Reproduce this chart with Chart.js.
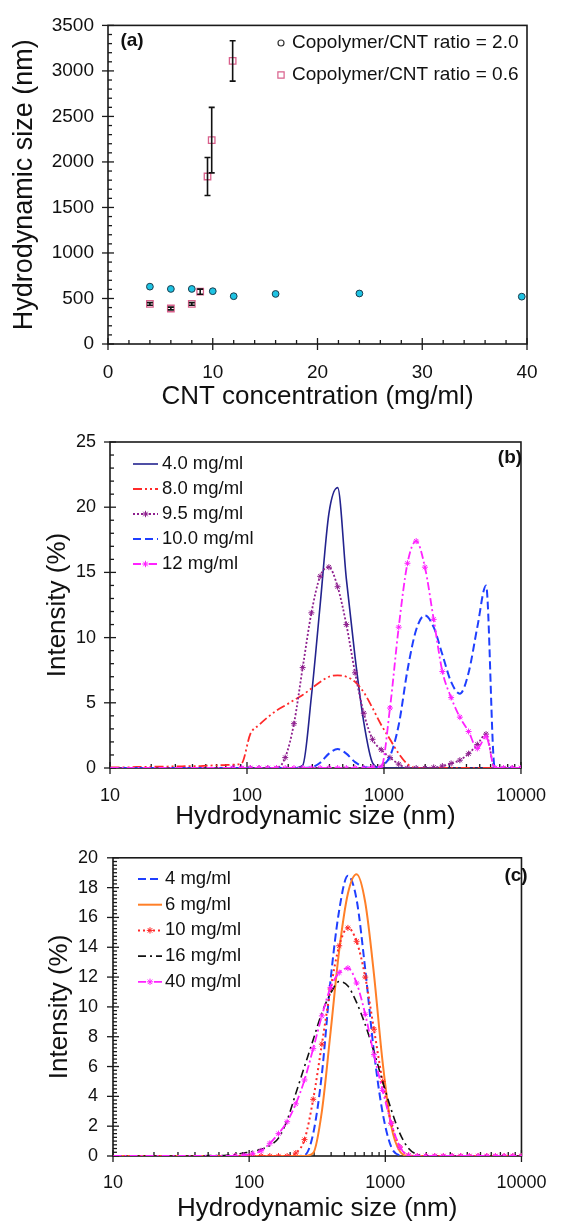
<!DOCTYPE html>
<html>
<head>
<meta charset="utf-8">
<script src="https://cdn.jsdelivr.net/npm/chart.js@4.4.1/dist/chart.umd.min.js"></script>
<style>
  html, body { margin: 0; padding: 0; background: #fff; overflow: hidden; }
  canvas { position: absolute; left: 0; }
</style>
</head>
<body>
<canvas id="chartA" width="563" height="412" style="top:0px"></canvas>
<canvas id="chartB" width="563" height="420" style="top:412px"></canvas>
<canvas id="chartC" width="563" height="392" style="top:832px"></canvas>
<script>
// ---- panel (a): size vs CNT concentration
const ratio20X = [4, 6, 8, 10, 12, 16, 24, 39.5];
const ratio20Y = [630, 605, 605, 580, 525, 550, 555, 520];
const ratio06X = [4, 6, 8, 8.8, 9.5, 9.9, 11.9];
const ratio06Y = [440, 390, 440, 575, 1840, 2240, 3110];
const ratio06Err = [15, 15, 15, 28, 208, 360, 222];

// ---- size bins (nm), shared by panels (b) and (c)
const sizeBins = [10.1, 11.7, 13.54, 15.69, 18.17, 21.04, 24.36, 28.21, 32.67, 37.84,
  43.82, 50.75, 58.77, 68.06, 78.82, 91.28, 105.7, 122.4, 141.8, 164.2,
  190.1, 220.2, 255.0, 295.3, 342.0, 396.1, 458.7, 531.2, 615.1, 712.4,
  825.0, 955.4, 1106, 1281, 1484, 1718, 1990, 2305, 2669, 3091,
  3580, 4145, 4801, 5560, 6439, 7456, 8635, 10000];

// ---- panel (b): intensity (%)
const b40 = [0,0,0,0,0,0,0,0,0,0, 0,0,0,0,0,0,0,0,0,0,
  0,0,0.2,5.5,12.5,19.5,21.5,14.5,8.5,3.5, 0.4,0,0,0,0,0,0,0,0,0, 0,0,0,0,0,0,0,0];
const b80 = [0.05,0.05,0.05,0.08,0.08,0.1,0.1,0.12,0.12,0.15, 0.15,0.18,0.2,0.22,0.25,0.35,2.6,3.3,3.9,4.4,
  4.8,5.2,5.6,6.1,6.6,7.0,7.1,7.0,6.6,5.8, 4.6,3.3,2.2,1.1,0.3,0,0,0,0,0, 0,0,0,0,0,0,0,0];
const b95 = [0,0,0,0,0,0,0,0,0,0, 0,0,0,0,0,0,0,0,0,0,
  0.8,3.4,7.7,11.9,14.7,15.4,13.9,11.0,7.3,4.2, 2.2,1.4,0.8,0.3,0,0,0,0.05,0.15,0.35, 0.6,1.1,1.8,2.6,0,0,0,0];
const b100 = [0,0,0,0,0,0,0,0,0,0, 0,0,0,0,0,0,0,0,0,0,
  0,0,0,0.05,0.4,1.1,1.45,1.1,0.45,0.1, 0,0.15,0.9,3.3,7.5,10.6,11.7,10.8,8.7,6.6, 5.7,7.3,10.8,14.0,0,0,0,0];
const b120 = [0,0,0,0,0,0,0,0,0,0, 0,0,0,0,0,0,0,0,0,0,
  0,0,0,0,0,0,0,0,0,0, 0.05,0.1,4.6,10.8,15.7,17.4,15.4,11.4,7.4,5.4, 3.9,2.8,1.5,2.4,0,0,0,0];

// ---- panel (c): intensity (%)
const c4 = [0,0,0,0,0,0,0,0,0,0, 0,0,0,0,0,0,0,0,0,0,
  0,0,0.05,1.5,5.5,11.8,16.5,18.8,17.2,12.5, 7.0,2.9,0.6,0.05,0,0,0,0,0,0, 0,0,0,0,0,0,0,0];
const c6 = [0,0,0,0,0,0,0,0,0,0, 0,0,0,0,0,0,0,0,0,0,
  0,0,0,0.2,3.0,8.3,13.8,17.6,18.9,17.0, 12.2,6.3,2.0,0.3,0,0,0,0,0,0, 0,0,0,0,0,0,0,0];
const c10 = [0,0,0,0,0,0,0,0,0,0, 0,0,0,0,0,0,0,0,0,0,
  0,0.2,1.1,3.8,7.5,11.2,14.1,15.3,14.4,12.0, 8.5,5.0,2.2,0.6,0.05,0,0,0,0,0, 0,0,0,0,0,0,0,0];
const c16 = [0,0,0,0,0,0,0,0,0,0, 0,0.03,0.03,0.05,0.1,0.2,0.3,0.45,0.7,1.2,
  2.4,4.2,6.0,7.8,9.6,10.9,11.7,11.4,10.3,8.8, 7.0,5.0,3.1,1.5,0.5,0.1,0,0,0,0, 0,0,0,0,0,0,0,0];
const c40 = [0,0,0,0,0,0,0,0,0,0, 0,0,0,0,0,0.05,0.15,0.35,0.85,1.5,
  2.3,3.5,5.1,7.2,9.4,11.3,12.3,12.6,11.6,9.5, 6.8,4.4,2.2,0.6,0.05,0,0,0,0,0, 0,0,0,0,0,0,0,0];

const decades = [10, 100, 1000, 10000];

Chart.defaults.font.family = "'Liberation Sans', Arial, sans-serif";
Chart.defaults.color = '#111';

function pairs(xs, ys) {
  return xs.map((x, i) => ({x: x, y: ys[i]}));
}

// frame and inward/outward tick marks, drawn under the data
const frameTicks = {
  id: 'frameTicks',
  beforeDatasetsDraw(chart, args, o) {
    const {ctx, chartArea: a} = chart;
    const xs = chart.scales.x, ys = chart.scales.y;
    ctx.save();
    ctx.strokeStyle = '#1a1a1a';
    ctx.lineWidth = 1.6;
    ctx.strokeRect(a.left, a.top, a.right - a.left, a.bottom - a.top);
    ctx.lineWidth = 1.3;
    xs.ticks.forEach(t => {
      if (o.logX) {
        const m = t.value / Math.pow(10, Math.floor(Math.log10(t.value) + 1e-9));
        if (Math.abs(m - Math.round(m)) > 1e-6) return;
      }
      const p = xs.getPixelForValue(t.value);
      const major = t.label !== '';
      ctx.beginPath();
      ctx.moveTo(p, a.bottom + (major ? 6 : 0));
      ctx.lineTo(p, a.bottom - (major ? 6 : 4));
      ctx.stroke();
    });
    ys.ticks.forEach(t => {
      const p = ys.getPixelForValue(t.value);
      const major = t.label !== '';
      ctx.beginPath();
      ctx.moveTo(a.left - (major ? 6 : 0), p);
      ctx.lineTo(a.left + (major ? 6 : 4), p);
      ctx.stroke();
    });
    ctx.restore();
  }
};

// error bars for panel (a)
const errorBars = {
  id: 'errorBars',
  afterDatasetsDraw(chart, args, o) {
    if (!o.err) return;
    const ctx = chart.ctx;
    const xs = chart.scales.x, ys = chart.scales.y;
    const ds = chart.data.datasets[o.dataset];
    ctx.save();
    ctx.strokeStyle = '#111';
    ctx.lineWidth = 1.6;
    ds.data.forEach((pt, i) => {
      const px = xs.getPixelForValue(pt.x);
      const lo = ys.getPixelForValue(pt.y - o.err[i]);
      const hi = ys.getPixelForValue(pt.y + o.err[i]);
      ctx.beginPath();
      ctx.moveTo(px, lo); ctx.lineTo(px, hi);
      ctx.moveTo(px - 3, lo); ctx.lineTo(px + 3, lo);
      ctx.moveTo(px - 3, hi); ctx.lineTo(px + 3, hi);
      ctx.stroke();
    });
    ctx.restore();
  }
};

// legend drawn inside the plot + panel tag
const insideLegend = {
  id: 'insideLegend',
  afterDraw(chart, args, o) {
    const ctx = chart.ctx;
    ctx.save();
    ctx.textBaseline = 'middle';
    ctx.fillStyle = '#111';
    ctx.font = o.font;
    const items = o.items || chart.data.datasets.map(d => ({
      label: d.label, color: d.borderColor, dash: d.borderDash || [],
      width: d.borderWidth, marker: d.pointStyle === 'star'
    }));
    items.forEach((it, i) => {
      const y = o.y + i * o.dy;
      if (it.symbol) {
        ctx.strokeStyle = it.color;
        ctx.fillStyle = 'rgba(0,0,0,0)';
        ctx.lineWidth = 1.2;
        Chart.helpers.drawPoint(ctx, {pointStyle: it.symbol, radius: it.r, borderWidth: 1.2, rotation: 0}, o.x0, y);
      } else {
        ctx.strokeStyle = it.color;
        ctx.lineWidth = it.width;
        ctx.setLineDash(it.dash);
        ctx.beginPath();
        ctx.moveTo(o.x0, y); ctx.lineTo(o.x1, y);
        ctx.stroke();
        ctx.setLineDash([]);
        if (it.marker) {
          ctx.lineWidth = 1;
          Chart.helpers.drawPoint(ctx, {pointStyle: 'star', radius: 3.2, borderWidth: 1, rotation: 0}, (o.x0 + o.x1) / 2, y);
        }
      }
      ctx.fillStyle = '#111';
      ctx.fillText(it.label, o.tx, y);
    });
    if (o.tag) {
      ctx.font = 'bold 19px "Liberation Sans", Arial, sans-serif';
      ctx.textAlign = 'center';
      ctx.fillText(o.tag.text, o.tag.x, o.tag.y);
    }
    ctx.restore();
  }
};

const noGrid = {display: false, drawTicks: false};
const noBorder = {display: false};

// ---------------- (a)
new Chart(document.getElementById('chartA'), {
  type: 'scatter',
  data: {
    datasets: [
      {label: 'Copolymer/CNT ratio = 2.0', data: pairs(ratio20X, ratio20Y),
        pointStyle: 'circle', pointRadius: 3.4, backgroundColor: '#1ec3e3',
        borderColor: '#1c3c4c', borderWidth: 1},
      {label: 'Copolymer/CNT ratio = 0.6', data: pairs(ratio06X, ratio06Y),
        pointStyle: 'rect', pointRadius: 4.6, backgroundColor: 'rgba(255,255,255,0)',
        borderColor: '#d9608c', borderWidth: 1.3}
    ]
  },
  options: {
    responsive: false, animation: false, devicePixelRatio: 1, events: [],
    layout: {padding: {left: 0, top: 21, right: 36, bottom: 0}},
    plugins: {
      legend: {display: false}, tooltip: {enabled: false},
      errorBars: {dataset: 1, err: ratio06Err},
      insideLegend: {
        font: '19px "Liberation Sans", Arial, sans-serif', x0: 281, x1: 281, tx: 292, y: 43, dy: 32,
        items: [
          {label: 'Copolymer/CNT ratio = 2.0', symbol: 'circle', r: 3, color: '#333'},
          {label: 'Copolymer/CNT ratio = 0.6', symbol: 'rect', r: 4.4, color: '#d9608c'}
        ],
        tag: {text: '(a)', x: 132, y: 41}
      }
    },
    scales: {
      x: {
        type: 'linear', min: 0, max: 40,
        grid: noGrid, border: noBorder,
        ticks: {stepSize: 2, autoSkip: false, maxRotation: 0, padding: 17, font: {size: 19},
          callback: v => (v % 10 === 0 ? String(v) : '')},
        title: {display: true, text: 'CNT concentration (mg/ml)', font: {size: 26}, padding: {top: 0, bottom: 0}},
        afterFit: s => { s.height = 68; }
      },
      y: {
        min: 0, max: 3500,
        grid: noGrid, border: noBorder,
        ticks: {stepSize: 100, autoSkip: false, padding: 14, font: {size: 19},
          callback: v => (v % 500 === 0 ? String(v) : '')},
        title: {display: true, text: 'Hydrodynamic size (nm)', font: {size: 27}, padding: {top: 8.8, bottom: 0}},
        afterFit: s => { s.width = 108; }
      }
    }
  },
  plugins: [frameTicks, errorBars, insideLegend]
});

// shared builder for the two distribution panels
function lineSet(label, values, color, dash, width, marker, order) {
  return {
    label: label, data: pairs(sizeBins, values), borderColor: color, backgroundColor: color,
    borderDash: dash, borderWidth: width, fill: false,
    cubicInterpolationMode: 'monotone',
    pointStyle: marker ? 'star' : 'circle',
    pointRadius: marker ? (c => (sizeBins[c.dataIndex] >= 78 ? 3 : 0)) : 0,
    pointBorderWidth: 1, pointBorderColor: color,
    order: order
  };
}

function distOptions(o) {
  return {
    responsive: false, animation: false, devicePixelRatio: 1, events: [],
    layout: {padding: {left: 0, top: o.top, right: o.right, bottom: 0}},
    plugins: {
      legend: {display: false}, tooltip: {enabled: false},
      frameTicks: {logX: true},
      insideLegend: o.legend
    },
    scales: {
      x: {
        type: 'logarithmic', min: 10, max: 10000,
        grid: noGrid, border: noBorder,
        ticks: {autoSkip: false, maxRotation: 0, padding: o.xPad, font: {size: 18},
          callback: v => (decades.indexOf(v) >= 0 ? String(v) : '')},
        title: {display: true, text: 'Hydrodynamic size (nm)', font: {size: 26}, padding: {top: 0, bottom: 0}},
        afterFit: s => { s.height = o.xh; }
      },
      y: {
        type: 'linear', min: 0, max: o.ymax,
        grid: noGrid, border: noBorder,
        ticks: {stepSize: o.minor, autoSkip: false, maxTicksLimit: 1000, padding: o.yPad, font: {size: 18},
          callback: v => (Math.abs(v / o.major - Math.round(v / o.major)) < 1e-6 ? String(v) : '')},
        title: {display: true, text: 'Intensity (%)', font: {size: 26}, padding: {top: o.titlePad, bottom: 0}},
        afterFit: s => { s.width = o.yw; }
      }
    }
  };
}

// ---------------- (b)
new Chart(document.getElementById('chartB'), {
  type: 'line',
  data: {
    datasets: [
      lineSet('4.0 mg/ml', b40, '#23238e', [], 1.6, false, 5),
      lineSet('8.0 mg/ml', b80, '#ff2a2a', [9, 3, 2, 3, 2, 3], 1.8, false, 4),
      lineSet('9.5 mg/ml', b95, '#8e1f8e', [2, 2], 1.8, true, 3),
      lineSet('10.0 mg/ml', b100, '#1f3fff', [8, 4], 2, false, 2),
      lineSet('12 mg/ml', b120, '#ff22ff', [8, 3, 2, 3], 1.8, true, 1)
    ]
  },
  options: distOptions({
    top: 30, right: 34, xPad: 17, xh: 64, ymax: 25, minor: 1, major: 5, yPad: 14, titlePad: 42.4, yw: 110,
    legend: {font: '18.5px "Liberation Sans", Arial, sans-serif', x0: 133, x1: 158, tx: 162, y: 464 - 412, dy: 25,
      tag: {text: '(b)', x: 510, y: 458 - 412}}
  }),
  plugins: [frameTicks, insideLegend]
});

// ---------------- (c)
new Chart(document.getElementById('chartC'), {
  type: 'line',
  data: {
    datasets: [
      lineSet('4 mg/ml', c4, '#1f3fff', [8, 4], 2, false, 5),
      lineSet('6 mg/ml', c6, '#ff7f27', [], 2, false, 4),
      lineSet('10 mg/ml', c10, '#ff2a2a', [2, 3], 2, true, 3),
      lineSet('16 mg/ml', c16, '#111111', [8, 4, 2, 4], 1.6, false, 2),
      lineSet('40 mg/ml', c40, '#ff22ff', [8, 3, 2, 3], 1.8, true, 1)
    ]
  },
  options: distOptions({
    top: 24, right: 28, xPad: 16.5, xh: 68, ymax: 20, minor: 0.25, major: 2, yPad: 15, titlePad: 44.4, yw: 113,
    legend: {font: '18.5px "Liberation Sans", Arial, sans-serif', x0: 138, x1: 162, tx: 165, y: 879 - 832, dy: 25.7,
      tag: {text: '(c)', x: 516, y: 876 - 832}}
  }),
  plugins: [frameTicks, insideLegend]
});
</script>
</body>
</html>
